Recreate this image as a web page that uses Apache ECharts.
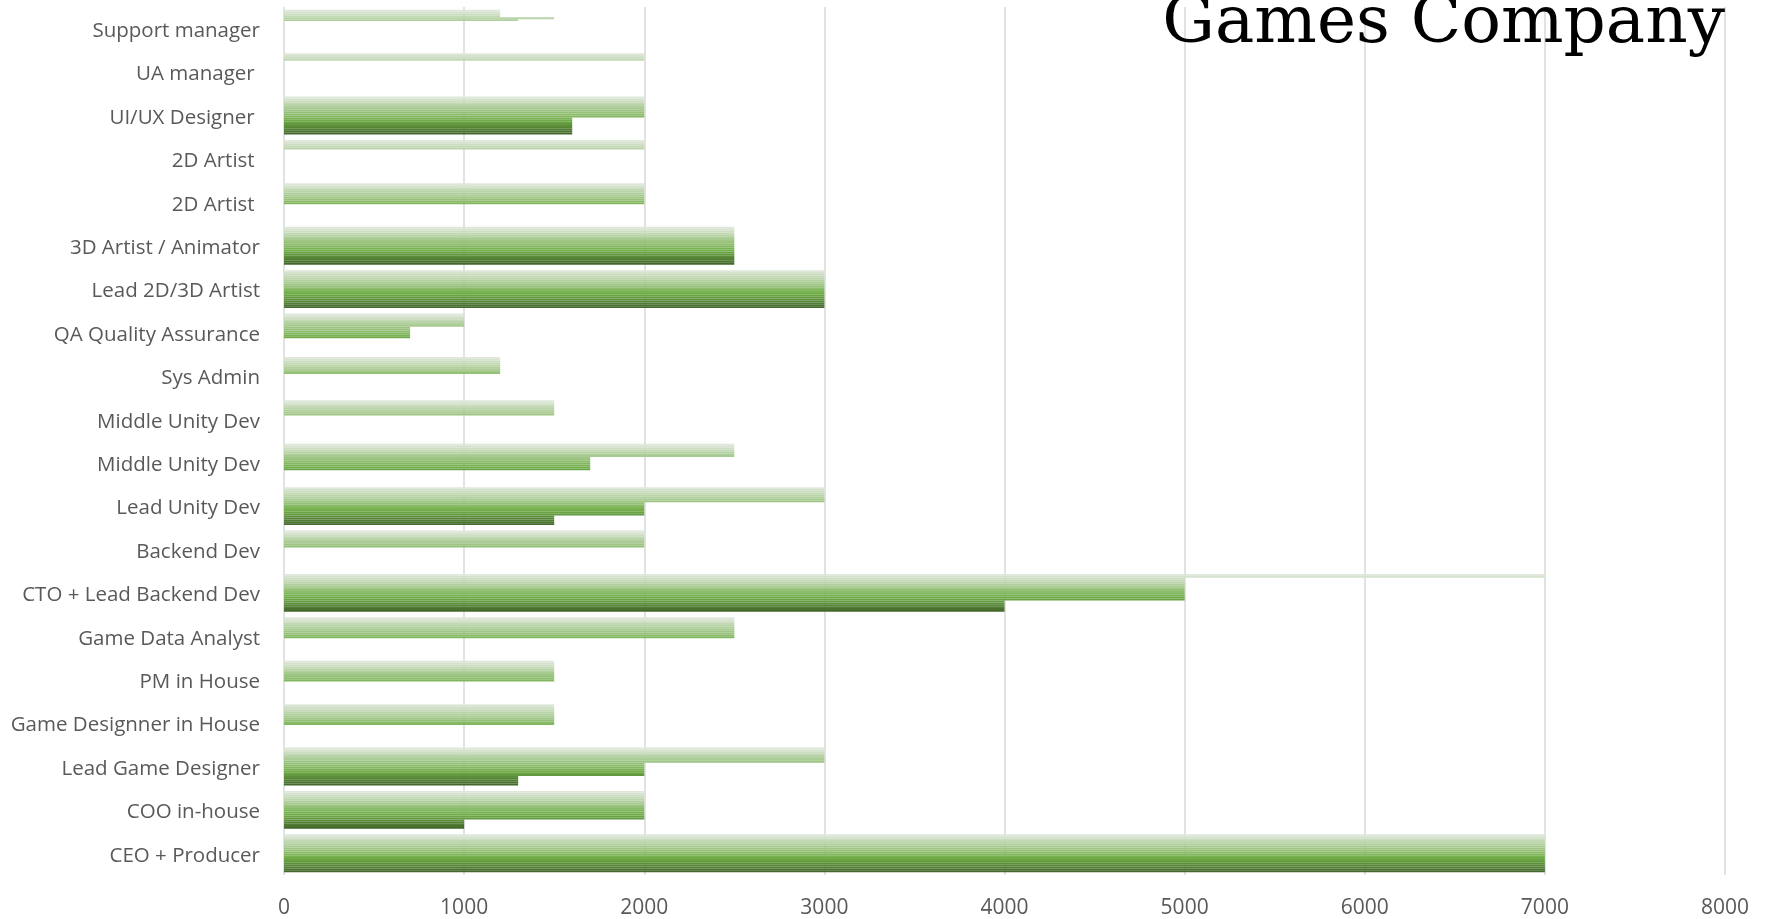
<!DOCTYPE html>
<html>
<head>
<meta charset="utf-8">
<script src="https://cdn.jsdelivr.net/npm/echarts@6/dist/echarts.min.js"></script>
<style>
html,body{margin:0;padding:0;background:#fff;}
#chart{width:1765px;height:919px;}
</style>
</head>
<body>
<div id="chart"></div>
<script>
// Categories, bottom to top (as the value axis reads them)
const categories = [
  'CEO + Producer', 'COO in-house', 'Lead Game Designer', 'Game Designner in House',
  'PM in House', 'Game Data Analyst', 'CTO + Lead Backend Dev', 'Backend Dev',
  'Lead Unity Dev', 'Middle Unity Dev', 'Middle Unity Dev', 'Sys Admin',
  'QA Quality Assurance', 'Lead 2D/3D Artist', '3D Artist / Animator', '2D Artist ',
  '2D Artist ', 'UI/UX Designer ', 'UA manager ', 'Support manager'
];
const xTicks = [0, 1000, 2000, 3000, 4000, 5000, 6000, 7000, 8000];
const N = null;
// Stripe values per category, top stripe (lightest series) first
const ceoProducer      = [7000,7000,7000,7000,7000,7000,7000,7000,7000,7000,7000,7000,7000,7000,7000,7000,7000,7000,7000,7000];
const cooInHouse       = [2000,2000,2000,2000,2000,2000,2000,2000,2000,2000,2000,2000,2000,2000,2000,1000,1000,1000,1000,1000];
const leadGameDesigner = [3000,3000,3000,3000,3000,3000,3000,3000,2000,2000,2000,2000,2000,2000,2000,1300,1300,1300,1300,1300];
const gameDesigner     = [1500,1500,1500,1500,1500,1500,1500,1500,1500,1500,1500,N,N,N,N,N,N,N,N,N];
const pmInHouse        = [1500,1500,1500,1500,1500,1500,1500,1500,1500,1500,1500,N,N,N,N,N,N,N,N,N];
const gameDataAnalyst  = [2500,2500,2500,2500,2500,2500,2500,2500,2500,2500,2500,N,N,N,N,N,N,N,N,N];
const ctoLeadBackend   = [7000,7000,5000,5000,5000,5000,5000,5000,5000,5000,5000,5000,5000,5000,4000,4000,4000,4000,4000,4000];
const backendDev       = [2000,2000,2000,2000,2000,2000,2000,2000,2000,N,N,N,N,N,N,N,N,N,N,N];
const leadUnityDev     = [3000,3000,3000,3000,3000,3000,3000,3000,2000,2000,2000,2000,2000,2000,2000,1500,1500,1500,1500,1500];
const middleUnityDevA  = [2500,2500,2500,2500,2500,2500,2500,1700,1700,1700,1700,1700,1700,1700,N,N,N,N,N,N];
const middleUnityDevB  = [1500,1500,1500,1500,1500,1500,1500,1500,N,N,N,N,N,N,N,N,N,N,N,N];
const sysAdmin         = [1200,1200,1200,1200,1200,1200,1200,1200,1200,N,N,N,N,N,N,N,N,N,N,N];
const qaAssurance      = [1000,1000,1000,1000,1000,1000,1000,700,700,700,700,700,700,N,N,N,N,N,N,N];
const lead2d3dArtist   = [3000,3000,3000,3000,3000,3000,3000,3000,3000,3000,3000,3000,3000,3000,3000,3000,3000,3000,3000,3000];
const artist3dAnimator = [2500,2500,2500,2500,2500,2500,2500,2500,2500,2500,2500,2500,2500,2500,2500,2500,2500,2500,2500,2500];
const artist2dA        = [2000,2000,2000,2000,2000,2000,2000,2000,2000,2000,2000,N,N,N,N,N,N,N,N,N];
const artist2dB        = [2000,2000,2000,2000,2000,N,N,N,N,N,N,N,N,N,N,N,N,N,N,N];
const uiUxDesigner     = [2000,2000,2000,2000,2000,2000,2000,2000,2000,2000,2000,1600,1600,1600,1600,1600,1600,1600,1600,1600];
const uaManager        = [2000,2000,2000,2000,N,N,N,N,N,N,N,N,N,N,N,N,N,N,N,N];
const supportManager   = [1200,1200,1200,1200,1500,1300,N,N,N,N,N,N,N,N,N,N,N,N,N,N];

const rows = [ceoProducer, cooInHouse, leadGameDesigner, gameDesigner, pmInHouse, gameDataAnalyst,
  ctoLeadBackend, backendDev, leadUnityDev, middleUnityDevA, middleUnityDevB, sysAdmin, qaAssurance,
  lead2d3dArtist, artist3dAnimator, artist2dA, artist2dB, uiUxDesigner, uaManager, supportManager];

const stripeCount = ceoProducer.length;

// monochromatic green palette: light tint at top, accent in the middle, dark shade at bottom
function mix(c, t, k) { return c.map((v, i) => Math.round(v + (t[i] - v) * k)); }
const accent = [112, 173, 71];
const lightEnd = [222, 231, 217];
const black = [0, 0, 0];
const accentIdx = 12;
function stripeColor(i) {
  let c;
  if (i <= accentIdx) c = mix(accent, lightEnd, (accentIdx - i) / accentIdx);
  else c = mix(accent, black, 0.4 * (i - accentIdx) / (stripeCount - 1 - accentIdx));
  return 'rgb(' + c.join(',') + ')';
}

const series = [];
for (let s = 0; s < stripeCount; s++) {
  series.push({
    type: 'bar',
    name: 'S' + (s + 1),
    data: rows.map(r => r[s]),
    barGap: '0%',
    barCategoryGap: '12.6%',
    itemStyle: { color: stripeColor(s) },
    emphasis: { disabled: true }
  });
}

const chart = echarts.init(document.getElementById('chart'), null, { renderer: 'canvas' });
chart.setOption({
  animation: false,
  backgroundColor: '#ffffff',
  title: {
    text: 'Games Company',
    right: 40,
    top: -8,
    padding: 0,
    textStyle: { fontFamily: 'DejaVu Serif', fontSize: 66, fontWeight: 'normal', color: '#000000' }
  },
  grid: { left: 284, right: 40, top: 7, bottom: 41, containLabel: false },
  xAxis: {
    type: 'value',
    min: xTicks[0],
    max: xTicks[xTicks.length - 1],
    interval: xTicks[1] - xTicks[0],
    axisLine: { show: false },
    axisTick: { show: false },
    axisLabel: { color: '#595959', fontFamily: 'Open Sans', fontSize: 21, margin: 23, formatter: v => String(v) },
    splitLine: { show: true, lineStyle: { color: '#d9d9d9', width: 1.5 } }
  },
  yAxis: {
    type: 'category',
    data: categories,
    axisLine: { show: false },
    axisTick: { show: false },
    axisLabel: {
      color: '#595959', fontFamily: 'Open Sans', fontSize: 20.5, margin: 24, interval: 0,
      formatter: v => '{a|' + v + '}',
      rich: { a: { color: '#595959', fontFamily: 'Open Sans', fontSize: 20.5, padding: [5, 0, 0, 0] } }
    },
    splitLine: { show: false }
  },
  series: series
});
</script>
</body>
</html>
